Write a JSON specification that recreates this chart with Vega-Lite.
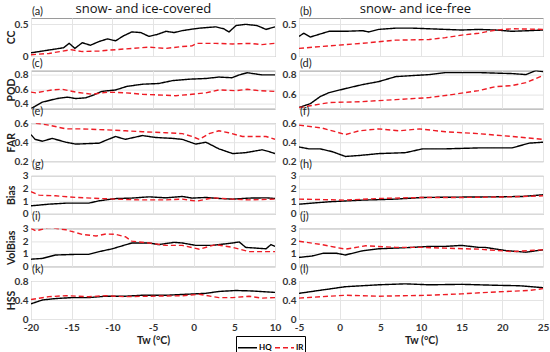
{
"$schema": "https://vega.github.io/schema/vega-lite/v6.json",
"padding": {"left": 5, "top": 2, "right": 5, "bottom": 2},
"datasets": {"d": [
{"p":"a","s":"HQ","x":-20,"v":0.05},{"p":"a","s":"HQ","x":-18,"v":0.09},{"p":"a","s":"HQ","x":-16,"v":0.13},{"p":"a","s":"HQ","x":-15.3,"v":0.2},{"p":"a","s":"HQ","x":-14.6,"v":0.12},{"p":"a","s":"HQ","x":-13.7,"v":0.21},{"p":"a","s":"HQ","x":-12.7,"v":0.17},{"p":"a","s":"HQ","x":-11.6,"v":0.23},{"p":"a","s":"HQ","x":-10.6,"v":0.27},{"p":"a","s":"HQ","x":-9.6,"v":0.24},{"p":"a","s":"HQ","x":-8.6,"v":0.32},{"p":"a","s":"HQ","x":-7.6,"v":0.38},{"p":"a","s":"HQ","x":-6.5,"v":0.37},{"p":"a","s":"HQ","x":-5.5,"v":0.31},{"p":"a","s":"HQ","x":-4.5,"v":0.34},{"p":"a","s":"HQ","x":-3.4,"v":0.39},{"p":"a","s":"HQ","x":-2.4,"v":0.37},{"p":"a","s":"HQ","x":-1.4,"v":0.4},{"p":"a","s":"HQ","x":-0.4,"v":0.42},{"p":"a","s":"HQ","x":0.7,"v":0.44},{"p":"a","s":"HQ","x":1.7,"v":0.45},{"p":"a","s":"HQ","x":2.7,"v":0.46},{"p":"a","s":"HQ","x":3.7,"v":0.43},{"p":"a","s":"HQ","x":4.35,"v":0.38},{"p":"a","s":"HQ","x":5.2,"v":0.48},{"p":"a","s":"HQ","x":6.4,"v":0.5},{"p":"a","s":"HQ","x":7.8,"v":0.48},{"p":"a","s":"HQ","x":8.9,"v":0.42},{"p":"a","s":"HQ","x":10,"v":0.46},
{"p":"a","s":"IR","x":-20,"v":0.02},{"p":"a","s":"IR","x":-17.8,"v":0.04},{"p":"a","s":"IR","x":-15.1,"v":0.1},{"p":"a","s":"IR","x":-13.7,"v":0.07},{"p":"a","s":"IR","x":-11.6,"v":0.08},{"p":"a","s":"IR","x":-9.6,"v":0.1},{"p":"a","s":"IR","x":-7.6,"v":0.12},{"p":"a","s":"IR","x":-5.5,"v":0.14},{"p":"a","s":"IR","x":-3.4,"v":0.12},{"p":"a","s":"IR","x":-1.4,"v":0.15},{"p":"a","s":"IR","x":-0.2,"v":0.16},{"p":"a","s":"IR","x":0.4,"v":0.2},{"p":"a","s":"IR","x":2.7,"v":0.2},{"p":"a","s":"IR","x":4.8,"v":0.19},{"p":"a","s":"IR","x":6.8,"v":0.2},{"p":"a","s":"IR","x":8.4,"v":0.18},{"p":"a","s":"IR","x":10,"v":0.2},
{"p":"b","s":"HQ","x":-5,"v":0.31},{"p":"b","s":"HQ","x":-4.4,"v":0.36},{"p":"b","s":"HQ","x":-3.6,"v":0.3},{"p":"b","s":"HQ","x":-1.3,"v":0.39},{"p":"b","s":"HQ","x":0.7,"v":0.39},{"p":"b","s":"HQ","x":2.8,"v":0.4},{"p":"b","s":"HQ","x":3.6,"v":0.38},{"p":"b","s":"HQ","x":4.8,"v":0.42},{"p":"b","s":"HQ","x":6.9,"v":0.44},{"p":"b","s":"HQ","x":8.9,"v":0.44},{"p":"b","s":"HQ","x":11,"v":0.43},{"p":"b","s":"HQ","x":13,"v":0.42},{"p":"b","s":"HQ","x":15,"v":0.41},{"p":"b","s":"HQ","x":17.1,"v":0.42},{"p":"b","s":"HQ","x":19.2,"v":0.41},{"p":"b","s":"HQ","x":21.2,"v":0.39},{"p":"b","s":"HQ","x":23.3,"v":0.4},{"p":"b","s":"HQ","x":25,"v":0.41},
{"p":"b","s":"IR","x":-5,"v":0.12},{"p":"b","s":"IR","x":-1.3,"v":0.16},{"p":"b","s":"IR","x":2.8,"v":0.2},{"p":"b","s":"IR","x":6.9,"v":0.25},{"p":"b","s":"IR","x":11,"v":0.26},{"p":"b","s":"IR","x":13,"v":0.29},{"p":"b","s":"IR","x":15,"v":0.33},{"p":"b","s":"IR","x":17.1,"v":0.36},{"p":"b","s":"IR","x":19.2,"v":0.41},{"p":"b","s":"IR","x":21.2,"v":0.43},{"p":"b","s":"IR","x":25,"v":0.42},
{"p":"c","s":"HQ","x":-20,"v":0.33},{"p":"c","s":"HQ","x":-18.6,"v":0.42},{"p":"c","s":"HQ","x":-16.8,"v":0.47},{"p":"c","s":"HQ","x":-15.5,"v":0.49},{"p":"c","s":"HQ","x":-14.5,"v":0.47},{"p":"c","s":"HQ","x":-13.3,"v":0.48},{"p":"c","s":"HQ","x":-12.3,"v":0.52},{"p":"c","s":"HQ","x":-11.3,"v":0.57},{"p":"c","s":"HQ","x":-9.6,"v":0.59},{"p":"c","s":"HQ","x":-8.2,"v":0.64},{"p":"c","s":"HQ","x":-6.3,"v":0.67},{"p":"c","s":"HQ","x":-4.3,"v":0.68},{"p":"c","s":"HQ","x":-2.6,"v":0.72},{"p":"c","s":"HQ","x":-0.6,"v":0.74},{"p":"c","s":"HQ","x":1.5,"v":0.75},{"p":"c","s":"HQ","x":3.1,"v":0.77},{"p":"c","s":"HQ","x":4.7,"v":0.76},{"p":"c","s":"HQ","x":5.6,"v":0.8},{"p":"c","s":"HQ","x":6.6,"v":0.83},{"p":"c","s":"HQ","x":8.4,"v":0.8},{"p":"c","s":"HQ","x":10,"v":0.8},
{"p":"c","s":"IR","x":-20,"v":0.56},{"p":"c","s":"IR","x":-19.4,"v":0.55},{"p":"c","s":"IR","x":-17.4,"v":0.59},{"p":"c","s":"IR","x":-16.2,"v":0.6},{"p":"c","s":"IR","x":-14.5,"v":0.56},{"p":"c","s":"IR","x":-12.5,"v":0.53},{"p":"c","s":"IR","x":-10.5,"v":0.56},{"p":"c","s":"IR","x":-8.4,"v":0.55},{"p":"c","s":"IR","x":-6.3,"v":0.53},{"p":"c","s":"IR","x":-4.3,"v":0.52},{"p":"c","s":"IR","x":-2.2,"v":0.51},{"p":"c","s":"IR","x":-0.2,"v":0.53},{"p":"c","s":"IR","x":1.5,"v":0.55},{"p":"c","s":"IR","x":3.1,"v":0.59},{"p":"c","s":"IR","x":5.2,"v":0.58},{"p":"c","s":"IR","x":6.6,"v":0.6},{"p":"c","s":"IR","x":8,"v":0.58},{"p":"c","s":"IR","x":10,"v":0.57},
{"p":"d","s":"HQ","x":-5,"v":0.47},{"p":"d","s":"HQ","x":-3.6,"v":0.51},{"p":"d","s":"HQ","x":-2.4,"v":0.58},{"p":"d","s":"HQ","x":-1.3,"v":0.62},{"p":"d","s":"HQ","x":0.7,"v":0.66},{"p":"d","s":"HQ","x":2.8,"v":0.7},{"p":"d","s":"HQ","x":4.8,"v":0.73},{"p":"d","s":"HQ","x":6.9,"v":0.78},{"p":"d","s":"HQ","x":8.9,"v":0.79},{"p":"d","s":"HQ","x":11,"v":0.8},{"p":"d","s":"HQ","x":13,"v":0.82},{"p":"d","s":"HQ","x":17.1,"v":0.82},{"p":"d","s":"HQ","x":21.2,"v":0.81},{"p":"d","s":"HQ","x":22.9,"v":0.8},{"p":"d","s":"HQ","x":24.1,"v":0.84},{"p":"d","s":"HQ","x":25,"v":0.83},
{"p":"d","s":"IR","x":-5,"v":0.47},{"p":"d","s":"IR","x":-1.3,"v":0.52},{"p":"d","s":"IR","x":2.8,"v":0.53},{"p":"d","s":"IR","x":6.9,"v":0.55},{"p":"d","s":"IR","x":11,"v":0.57},{"p":"d","s":"IR","x":13.8,"v":0.6},{"p":"d","s":"IR","x":17.1,"v":0.64},{"p":"d","s":"IR","x":19.2,"v":0.68},{"p":"d","s":"IR","x":21.2,"v":0.69},{"p":"d","s":"IR","x":22.9,"v":0.72},{"p":"d","s":"IR","x":25,"v":0.79},
{"p":"e","s":"HQ","x":-20,"v":0.48},{"p":"e","s":"HQ","x":-19.5,"v":0.43},{"p":"e","s":"HQ","x":-18.6,"v":0.41},{"p":"e","s":"HQ","x":-17.4,"v":0.44},{"p":"e","s":"HQ","x":-15.7,"v":0.4},{"p":"e","s":"HQ","x":-14.5,"v":0.38},{"p":"e","s":"HQ","x":-11.6,"v":0.39},{"p":"e","s":"HQ","x":-10.8,"v":0.42},{"p":"e","s":"HQ","x":-9.6,"v":0.46},{"p":"e","s":"HQ","x":-8.4,"v":0.43},{"p":"e","s":"HQ","x":-6.3,"v":0.47},{"p":"e","s":"HQ","x":-4.7,"v":0.45},{"p":"e","s":"HQ","x":-2.6,"v":0.44},{"p":"e","s":"HQ","x":-1.4,"v":0.43},{"p":"e","s":"HQ","x":0.25,"v":0.38},{"p":"e","s":"HQ","x":1.5,"v":0.4},{"p":"e","s":"HQ","x":3.1,"v":0.33},{"p":"e","s":"HQ","x":4.8,"v":0.28},{"p":"e","s":"HQ","x":6.4,"v":0.29},{"p":"e","s":"HQ","x":8.4,"v":0.32},{"p":"e","s":"HQ","x":9.3,"v":0.3},{"p":"e","s":"HQ","x":10,"v":0.28},
{"p":"e","s":"IR","x":-19.4,"v":0.6},{"p":"e","s":"IR","x":-17.8,"v":0.58},{"p":"e","s":"IR","x":-15.7,"v":0.54},{"p":"e","s":"IR","x":-13.7,"v":0.54},{"p":"e","s":"IR","x":-10.8,"v":0.53},{"p":"e","s":"IR","x":-8.4,"v":0.52},{"p":"e","s":"IR","x":-6.3,"v":0.51},{"p":"e","s":"IR","x":-3.4,"v":0.5},{"p":"e","s":"IR","x":-1.4,"v":0.49},{"p":"e","s":"IR","x":-0.2,"v":0.46},{"p":"e","s":"IR","x":0.7,"v":0.43},{"p":"e","s":"IR","x":1.9,"v":0.49},{"p":"e","s":"IR","x":3.1,"v":0.52},{"p":"e","s":"IR","x":4.3,"v":0.5},{"p":"e","s":"IR","x":6,"v":0.46},{"p":"e","s":"IR","x":7.6,"v":0.46},{"p":"e","s":"IR","x":8.9,"v":0.46},{"p":"e","s":"IR","x":10,"v":0.43},
{"p":"f","s":"HQ","x":-5,"v":0.35},{"p":"f","s":"HQ","x":-3.8,"v":0.33},{"p":"f","s":"HQ","x":-2.4,"v":0.33},{"p":"f","s":"HQ","x":-0.9,"v":0.3},{"p":"f","s":"HQ","x":0.7,"v":0.25},{"p":"f","s":"HQ","x":2.4,"v":0.26},{"p":"f","s":"HQ","x":4.8,"v":0.28},{"p":"f","s":"HQ","x":8.1,"v":0.29},{"p":"f","s":"HQ","x":10.2,"v":0.33},{"p":"f","s":"HQ","x":13,"v":0.33},{"p":"f","s":"HQ","x":17.1,"v":0.34},{"p":"f","s":"HQ","x":21.2,"v":0.34},{"p":"f","s":"HQ","x":23.3,"v":0.39},{"p":"f","s":"HQ","x":25,"v":0.4},
{"p":"f","s":"IR","x":-5,"v":0.58},{"p":"f","s":"IR","x":-2.2,"v":0.55},{"p":"f","s":"IR","x":-0.5,"v":0.51},{"p":"f","s":"IR","x":0.7,"v":0.48},{"p":"f","s":"IR","x":2.4,"v":0.52},{"p":"f","s":"IR","x":4.8,"v":0.54},{"p":"f","s":"IR","x":7.3,"v":0.52},{"p":"f","s":"IR","x":9.8,"v":0.54},{"p":"f","s":"IR","x":13,"v":0.51},{"p":"f","s":"IR","x":17.1,"v":0.49},{"p":"f","s":"IR","x":21.2,"v":0.46},{"p":"f","s":"IR","x":25,"v":0.43},
{"p":"g","s":"HQ","x":-20,"v":0.63},{"p":"g","s":"HQ","x":-17.8,"v":0.76},{"p":"g","s":"HQ","x":-15.7,"v":0.84},{"p":"g","s":"HQ","x":-12.9,"v":0.84},{"p":"g","s":"HQ","x":-11.6,"v":1.03},{"p":"g","s":"HQ","x":-9.6,"v":1.2},{"p":"g","s":"HQ","x":-7.6,"v":1.24},{"p":"g","s":"HQ","x":-5.5,"v":1.34},{"p":"g","s":"HQ","x":-3.4,"v":1.26},{"p":"g","s":"HQ","x":-1.4,"v":1.37},{"p":"g","s":"HQ","x":-0.2,"v":1.24},{"p":"g","s":"HQ","x":1.5,"v":1.29},{"p":"g","s":"HQ","x":3.1,"v":1.21},{"p":"g","s":"HQ","x":4.8,"v":1.16},{"p":"g","s":"HQ","x":6.8,"v":1.24},{"p":"g","s":"HQ","x":8.9,"v":1.26},{"p":"g","s":"HQ","x":10,"v":1.21},
{"p":"g","s":"IR","x":-20,"v":1.74},{"p":"g","s":"IR","x":-19,"v":1.47},{"p":"g","s":"IR","x":-17,"v":1.42},{"p":"g","s":"IR","x":-14.5,"v":1.29},{"p":"g","s":"IR","x":-11.6,"v":1.21},{"p":"g","s":"IR","x":-9.6,"v":1.16},{"p":"g","s":"IR","x":-6.7,"v":1.1},{"p":"g","s":"IR","x":-3.4,"v":1.1},{"p":"g","s":"IR","x":-1.4,"v":1.16},{"p":"g","s":"IR","x":0.4,"v":1.0},{"p":"g","s":"IR","x":2.3,"v":1.26},{"p":"g","s":"IR","x":4.8,"v":1.16},{"p":"g","s":"IR","x":6.8,"v":1.1},{"p":"g","s":"IR","x":10,"v":1.16},
{"p":"h","s":"HQ","x":-5,"v":0.76},{"p":"h","s":"HQ","x":-1.3,"v":0.95},{"p":"h","s":"HQ","x":2.8,"v":1.08},{"p":"h","s":"HQ","x":6.9,"v":1.16},{"p":"h","s":"HQ","x":10.2,"v":1.29},{"p":"h","s":"HQ","x":15,"v":1.32},{"p":"h","s":"HQ","x":19.2,"v":1.34},{"p":"h","s":"HQ","x":22.5,"v":1.37},{"p":"h","s":"HQ","x":25,"v":1.5},
{"p":"h","s":"IR","x":-5,"v":1.16},{"p":"h","s":"IR","x":0.7,"v":1.08},{"p":"h","s":"IR","x":4.8,"v":1.21},{"p":"h","s":"IR","x":10.2,"v":1.29},{"p":"h","s":"IR","x":15,"v":1.29},{"p":"h","s":"IR","x":21.2,"v":1.34},{"p":"h","s":"IR","x":25,"v":1.42},
{"p":"i","s":"HQ","x":-20,"v":0.57},{"p":"i","s":"HQ","x":-18.6,"v":0.63},{"p":"i","s":"HQ","x":-17,"v":0.9},{"p":"i","s":"HQ","x":-14.5,"v":0.95},{"p":"i","s":"HQ","x":-12.9,"v":0.95},{"p":"i","s":"HQ","x":-11.6,"v":1.17},{"p":"i","s":"HQ","x":-10,"v":1.39},{"p":"i","s":"HQ","x":-8.6,"v":1.66},{"p":"i","s":"HQ","x":-7.6,"v":1.85},{"p":"i","s":"HQ","x":-5.5,"v":1.85},{"p":"i","s":"HQ","x":-4.3,"v":1.72},{"p":"i","s":"HQ","x":-2.4,"v":1.9},{"p":"i","s":"HQ","x":-1.4,"v":1.85},{"p":"i","s":"HQ","x":0.25,"v":1.66},{"p":"i","s":"HQ","x":2.3,"v":1.66},{"p":"i","s":"HQ","x":4.8,"v":1.85},{"p":"i","s":"HQ","x":5.6,"v":1.93},{"p":"i","s":"HQ","x":6.4,"v":1.5},{"p":"i","s":"HQ","x":8.9,"v":1.39},{"p":"i","s":"HQ","x":9.5,"v":1.72},{"p":"i","s":"HQ","x":10,"v":1.58},
{"p":"i","s":"IR","x":-20,"v":3.0},{"p":"i","s":"IR","x":-19.4,"v":2.8},{"p":"i","s":"IR","x":-17.8,"v":3.08},{"p":"i","s":"IR","x":-15.7,"v":2.89},{"p":"i","s":"IR","x":-13.7,"v":2.53},{"p":"i","s":"IR","x":-12,"v":2.4},{"p":"i","s":"IR","x":-10.8,"v":2.56},{"p":"i","s":"IR","x":-9.6,"v":2.53},{"p":"i","s":"IR","x":-8.4,"v":2.34},{"p":"i","s":"IR","x":-7.6,"v":1.99},{"p":"i","s":"IR","x":-5.5,"v":1.85},{"p":"i","s":"IR","x":-3.4,"v":1.66},{"p":"i","s":"IR","x":-1.4,"v":1.66},{"p":"i","s":"IR","x":0.7,"v":1.36},{"p":"i","s":"IR","x":2.7,"v":1.72},{"p":"i","s":"IR","x":4.8,"v":1.5},{"p":"i","s":"IR","x":6.8,"v":1.17},{"p":"i","s":"IR","x":10,"v":1.17},
{"p":"j","s":"HQ","x":-5,"v":0.71},{"p":"j","s":"HQ","x":-3.4,"v":0.82},{"p":"j","s":"HQ","x":-2,"v":1.04},{"p":"j","s":"HQ","x":-0.4,"v":1.04},{"p":"j","s":"HQ","x":0.7,"v":0.9},{"p":"j","s":"HQ","x":2.8,"v":1.23},{"p":"j","s":"HQ","x":4.8,"v":1.39},{"p":"j","s":"HQ","x":8.9,"v":1.5},{"p":"j","s":"HQ","x":11,"v":1.58},{"p":"j","s":"HQ","x":13,"v":1.58},{"p":"j","s":"HQ","x":15,"v":1.66},{"p":"j","s":"HQ","x":17.1,"v":1.5},{"p":"j","s":"HQ","x":17.9,"v":1.5},{"p":"j","s":"HQ","x":20.4,"v":1.25},{"p":"j","s":"HQ","x":22.9,"v":1.12},{"p":"j","s":"HQ","x":25,"v":1.31},
{"p":"j","s":"IR","x":-5,"v":1.99},{"p":"j","s":"IR","x":-2.2,"v":1.72},{"p":"j","s":"IR","x":0.7,"v":1.36},{"p":"j","s":"IR","x":3.2,"v":1.63},{"p":"j","s":"IR","x":6.9,"v":1.5},{"p":"j","s":"IR","x":10.2,"v":1.5},{"p":"j","s":"IR","x":13,"v":1.44},{"p":"j","s":"IR","x":17.1,"v":1.36},{"p":"j","s":"IR","x":21.2,"v":1.17},{"p":"j","s":"IR","x":25,"v":1.31},
{"p":"k","s":"HQ","x":-20,"v":0.32},{"p":"k","s":"HQ","x":-18.6,"v":0.4},{"p":"k","s":"HQ","x":-17,"v":0.43},{"p":"k","s":"HQ","x":-15,"v":0.45},{"p":"k","s":"HQ","x":-12.9,"v":0.45},{"p":"k","s":"HQ","x":-10.8,"v":0.48},{"p":"k","s":"HQ","x":-8.4,"v":0.48},{"p":"k","s":"HQ","x":-6.3,"v":0.5},{"p":"k","s":"HQ","x":-3.4,"v":0.5},{"p":"k","s":"HQ","x":-1,"v":0.52},{"p":"k","s":"HQ","x":1.5,"v":0.54},{"p":"k","s":"HQ","x":3.1,"v":0.58},{"p":"k","s":"HQ","x":5.2,"v":0.6},{"p":"k","s":"HQ","x":7.2,"v":0.59},{"p":"k","s":"HQ","x":10,"v":0.56},
{"p":"k","s":"IR","x":-20,"v":0.41},{"p":"k","s":"IR","x":-17.8,"v":0.47},{"p":"k","s":"IR","x":-15.7,"v":0.49},{"p":"k","s":"IR","x":-12.9,"v":0.47},{"p":"k","s":"IR","x":-10.8,"v":0.49},{"p":"k","s":"IR","x":-8.4,"v":0.47},{"p":"k","s":"IR","x":-5.5,"v":0.48},{"p":"k","s":"IR","x":-1.4,"v":0.49},{"p":"k","s":"IR","x":0.7,"v":0.52},{"p":"k","s":"IR","x":3.1,"v":0.45},{"p":"k","s":"IR","x":4.8,"v":0.45},{"p":"k","s":"IR","x":6.8,"v":0.48},{"p":"k","s":"IR","x":8.4,"v":0.44},{"p":"k","s":"IR","x":10,"v":0.45},
{"p":"l","s":"HQ","x":-5,"v":0.54},{"p":"l","s":"HQ","x":-3.4,"v":0.58},{"p":"l","s":"HQ","x":0.7,"v":0.68},{"p":"l","s":"HQ","x":4.8,"v":0.72},{"p":"l","s":"HQ","x":8.1,"v":0.74},{"p":"l","s":"HQ","x":11,"v":0.72},{"p":"l","s":"HQ","x":15,"v":0.73},{"p":"l","s":"HQ","x":19.2,"v":0.71},{"p":"l","s":"HQ","x":22.1,"v":0.7},{"p":"l","s":"HQ","x":25,"v":0.66},
{"p":"l","s":"IR","x":-5,"v":0.44},{"p":"l","s":"IR","x":0.7,"v":0.5},{"p":"l","s":"IR","x":4.8,"v":0.48},{"p":"l","s":"IR","x":11,"v":0.5},{"p":"l","s":"IR","x":15,"v":0.53},{"p":"l","s":"IR","x":19.2,"v":0.57},{"p":"l","s":"IR","x":23.3,"v":0.6},{"p":"l","s":"IR","x":25,"v":0.64}
]},
"data": {"name": "d"},
"hconcat": [
{"title": {"text": "snow- and ice-covered", "anchor": "middle", "frame": "bounds", "offset": -10, "dx": 0, "fontSize": 13, "fontWeight": "normal", "font": "Open Sans", "color": "#111"},
 "spacing": 14.6, "bounds": "flush",
 "resolve": {"scale": {"x": "independent", "y": "independent"}},
 "vconcat": [
  {"width": 244, "height": 38, "title": {"text": "(a)", "frame": "group"}, "transform": [{"filter": "datum.p=='a'"}], "mark": {"type": "line", "clip": true},
   "encoding": {"x": {"field": "x", "type": "quantitative", "scale": {"domain": [-20, 10], "nice": false}, "axis": {"values": [-20,-15,-10,-5,0,5,10], "labels": false, "title": null}},
    "y": {"field": "v", "type": "quantitative", "scale": {"domain": [0, 0.6], "nice": false}, "axis": {"values": [0, 0.5], "title": "CC"}},
    "color": {"field": "s", "type": "nominal", "scale": {"domain": ["HQ","IR"], "range": ["#000000","#ee1c25"]}, "legend": {"title": null, "orient": "none", "legendX": 205, "legendY": 318, "direction": "horizontal"}},
    "strokeDash": {"field": "s", "type": "nominal", "scale": {"domain": ["HQ","IR"], "range": [[1,0],[5,3]]}, "legend": {"title": null, "orient": "none", "legendX": 205, "legendY": 318, "direction": "horizontal"}},
    "strokeWidth": {"value": 1.4}}},
  {"width": 244, "height": 38, "title": {"text": "(c)", "frame": "group"}, "transform": [{"filter": "datum.p=='c'"}], "mark": {"type": "line", "clip": true},
   "encoding": {"x": {"field": "x", "type": "quantitative", "scale": {"domain": [-20, 10], "nice": false}, "axis": {"values": [-20,-15,-10,-5,0,5,10], "labels": false, "title": null}},
    "y": {"field": "v", "type": "quantitative", "scale": {"domain": [0.33, 0.86], "nice": false, "zero": false}, "axis": {"values": [0.4, 0.6, 0.8], "title": "POD"}},
    "color": {"field": "s", "type": "nominal"}, "strokeDash": {"field": "s", "type": "nominal"}, "strokeWidth": {"value": 1.4}}},
  {"width": 244, "height": 38, "title": {"text": "(e)", "frame": "group"}, "transform": [{"filter": "datum.p=='e'"}], "mark": {"type": "line", "clip": true},
   "encoding": {"x": {"field": "x", "type": "quantitative", "scale": {"domain": [-20, 10], "nice": false}, "axis": {"values": [-20,-15,-10,-5,0,5,10], "labels": false, "title": null}},
    "y": {"field": "v", "type": "quantitative", "scale": {"domain": [0.2, 0.6], "nice": false, "zero": false}, "axis": {"values": [0.2, 0.4, 0.6], "title": "FAR"}},
    "color": {"field": "s", "type": "nominal"}, "strokeDash": {"field": "s", "type": "nominal"}, "strokeWidth": {"value": 1.4}}},
  {"width": 244, "height": 38, "title": {"text": "(g)", "frame": "group"}, "transform": [{"filter": "datum.p=='g'"}], "mark": {"type": "line", "clip": true},
   "encoding": {"x": {"field": "x", "type": "quantitative", "scale": {"domain": [-20, 10], "nice": false}, "axis": {"values": [-20,-15,-10,-5,0,5,10], "labels": false, "title": null}},
    "y": {"field": "v", "type": "quantitative", "scale": {"domain": [0, 3], "nice": false}, "axis": {"values": [0, 1, 2, 3], "title": "Bias"}},
    "color": {"field": "s", "type": "nominal"}, "strokeDash": {"field": "s", "type": "nominal"}, "strokeWidth": {"value": 1.4}}},
  {"width": 244, "height": 38, "title": {"text": "(i)", "frame": "group"}, "transform": [{"filter": "datum.p=='i'"}], "mark": {"type": "line", "clip": true},
   "encoding": {"x": {"field": "x", "type": "quantitative", "scale": {"domain": [-20, 10], "nice": false}, "axis": {"values": [-20,-15,-10,-5,0,5,10], "labels": false, "title": null}},
    "y": {"field": "v", "type": "quantitative", "scale": {"domain": [0, 3], "nice": false}, "axis": {"values": [0, 1, 2, 3], "title": "VolBias"}},
    "color": {"field": "s", "type": "nominal"}, "strokeDash": {"field": "s", "type": "nominal"}, "strokeWidth": {"value": 1.4}}},
  {"width": 244, "height": 38, "title": {"text": "(k)", "frame": "group"}, "transform": [{"filter": "datum.p=='k'"}], "mark": {"type": "line", "clip": true},
   "encoding": {"x": {"field": "x", "type": "quantitative", "scale": {"domain": [-20, 10], "nice": false}, "axis": {"values": [-20,-15,-10,-5,0,5,10], "title": "Tw (°C)", "labelExpr": "toString(datum.value)"}},
    "y": {"field": "v", "type": "quantitative", "scale": {"domain": [0, 0.8], "nice": false}, "axis": {"values": [0, 0.4, 0.8], "title": "HSS"}},
    "color": {"field": "s", "type": "nominal"}, "strokeDash": {"field": "s", "type": "nominal"}, "strokeWidth": {"value": 1.4}}}
 ]},
{"title": {"text": "snow- and ice-free", "anchor": "middle", "frame": "bounds", "offset": -10, "dx": 0, "fontSize": 13, "fontWeight": "normal", "font": "Open Sans", "color": "#111"},
 "spacing": 14.6, "bounds": "flush",
 "resolve": {"scale": {"x": "independent", "y": "independent"}},
 "vconcat": [
  {"width": 244, "height": 38, "title": {"text": "(b)", "frame": "group"}, "transform": [{"filter": "datum.p=='b'"}], "mark": {"type": "line", "clip": true},
   "encoding": {"x": {"field": "x", "type": "quantitative", "scale": {"domain": [-5, 25], "nice": false}, "axis": {"values": [-5,0,5,10,15,20,25], "labels": false, "title": null}},
    "y": {"field": "v", "type": "quantitative", "scale": {"domain": [0, 0.6], "nice": false}, "axis": {"values": [0, 0.5], "title": null}},
    "color": {"field": "s", "type": "nominal"}, "strokeDash": {"field": "s", "type": "nominal"}, "strokeWidth": {"value": 1.4}}},
  {"width": 244, "height": 38, "title": {"text": "(d)", "frame": "group"}, "transform": [{"filter": "datum.p=='d'"}], "mark": {"type": "line", "clip": true},
   "encoding": {"x": {"field": "x", "type": "quantitative", "scale": {"domain": [-5, 25], "nice": false}, "axis": {"values": [-5,0,5,10,15,20,25], "labels": false, "title": null}},
    "y": {"field": "v", "type": "quantitative", "scale": {"domain": [0.46, 0.84], "nice": false, "zero": false}, "axis": {"values": [0.6, 0.8], "title": null}},
    "color": {"field": "s", "type": "nominal"}, "strokeDash": {"field": "s", "type": "nominal"}, "strokeWidth": {"value": 1.4}}},
  {"width": 244, "height": 38, "title": {"text": "(f)", "frame": "group"}, "transform": [{"filter": "datum.p=='f'"}], "mark": {"type": "line", "clip": true},
   "encoding": {"x": {"field": "x", "type": "quantitative", "scale": {"domain": [-5, 25], "nice": false}, "axis": {"values": [-5,0,5,10,15,20,25], "labels": false, "title": null}},
    "y": {"field": "v", "type": "quantitative", "scale": {"domain": [0.2, 0.6], "nice": false, "zero": false}, "axis": {"values": [0.2, 0.4, 0.6], "title": null}},
    "color": {"field": "s", "type": "nominal"}, "strokeDash": {"field": "s", "type": "nominal"}, "strokeWidth": {"value": 1.4}}},
  {"width": 244, "height": 38, "title": {"text": "(h)", "frame": "group"}, "transform": [{"filter": "datum.p=='h'"}], "mark": {"type": "line", "clip": true},
   "encoding": {"x": {"field": "x", "type": "quantitative", "scale": {"domain": [-5, 25], "nice": false}, "axis": {"values": [-5,0,5,10,15,20,25], "labels": false, "title": null}},
    "y": {"field": "v", "type": "quantitative", "scale": {"domain": [0, 3], "nice": false}, "axis": {"values": [0, 1, 2, 3], "title": null}},
    "color": {"field": "s", "type": "nominal"}, "strokeDash": {"field": "s", "type": "nominal"}, "strokeWidth": {"value": 1.4}}},
  {"width": 244, "height": 38, "title": {"text": "(j)", "frame": "group"}, "transform": [{"filter": "datum.p=='j'"}], "mark": {"type": "line", "clip": true},
   "encoding": {"x": {"field": "x", "type": "quantitative", "scale": {"domain": [-5, 25], "nice": false}, "axis": {"values": [-5,0,5,10,15,20,25], "labels": false, "title": null}},
    "y": {"field": "v", "type": "quantitative", "scale": {"domain": [0, 3], "nice": false}, "axis": {"values": [0, 1, 2, 3], "title": null}},
    "color": {"field": "s", "type": "nominal"}, "strokeDash": {"field": "s", "type": "nominal"}, "strokeWidth": {"value": 1.4}}},
  {"width": 244, "height": 38, "title": {"text": "(l)", "frame": "group"}, "transform": [{"filter": "datum.p=='l'"}], "mark": {"type": "line", "clip": true},
   "encoding": {"x": {"field": "x", "type": "quantitative", "scale": {"domain": [-5, 25], "nice": false}, "axis": {"values": [-5,0,5,10,15,20,25], "title": "Tw (°C)", "labelExpr": "toString(datum.value)"}},
    "y": {"field": "v", "type": "quantitative", "scale": {"domain": [0, 0.8], "nice": false}, "axis": {"values": [0, 0.4, 0.8], "title": null}},
    "color": {"field": "s", "type": "nominal"}, "strokeDash": {"field": "s", "type": "nominal"}, "strokeWidth": {"value": 1.4}}}
 ]}
],
"spacing": -1,
"resolve": {"scale": {"x": "independent", "y": "independent"}},
"config": {
 "font": "Lato",
 "view": {"stroke": "#9a9a9a", "strokeWidth": 1},
 "axis": {"grid": true, "gridColor": "#e4e4e4", "gridWidth": 1, "domain": false, "ticks": false, "labelFont": "Lato", "labelFontWeight": "bold", "labelFontSize": 10, "labelColor": "#333333", "labelPadding": 3, "labelFlush": false, "labelOverlap": false, "format": "~g", "titleFont": "Lato", "titleFontWeight": "bold", "titleFontSize": 10.5, "titleColor": "#222222"},
 "axisY": {"titleX": -17, "titleBaseline": "alphabetic", "titleAngle": -90},
 "axisX": {"titlePadding": 3},
 "title": {"anchor": "start", "fontSize": 11, "fontWeight": "normal", "font": "Lato", "offset": 1, "dx": 1, "color": "#222222"},
 "legend": {"strokeColor": "#000000", "padding": 1, "symbolType": "stroke", "symbolSize": 361, "symbolStrokeWidth": 1.5, "labelFontWeight": "bold", "labelFontSize": 8, "labelFont": "Lato", "columnPadding": 0, "symbolOffset": 0, "labelOffset": 1}
}
}
